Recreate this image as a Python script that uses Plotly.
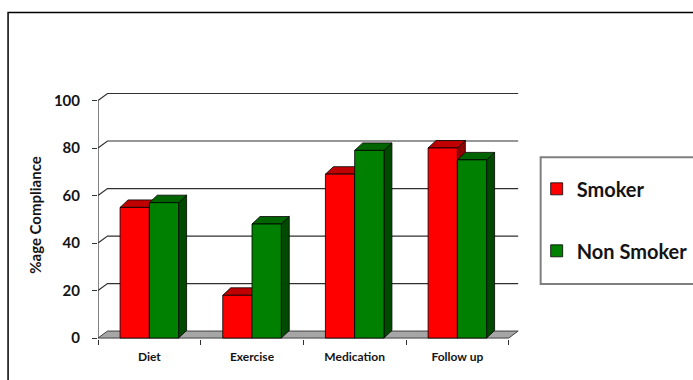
import plotly.graph_objects as go

# ---------------- data ----------------
categories = ["Diet", "Exercise", "Medication", "Follow up"]
smoker = [55, 18, 69, 80]
non_smoker = [57, 48, 79, 75]
y_ticks = [0, 20, 40, 60, 80, 100]
series_names = ["Smoker", "Non Smoker"]

# ---------------- style ----------------
FONT = "Lato"
TXT = "#141414"
RED = "#ff0000"; RED_TOP = "#c00000"; RED_SIDE = "#900000"
GRN = "#008000"; GRN_TOP = "#006400"; GRN_SIDE = "#004a00"

# plot geometry (pixels)
W_FIG, H_FIG = 693, 380
L, T, B = 98, 90.5, 41
XR = (-0.5, 3.62)
YR = (-0.4, 104)
PW = (XR[1] - XR[0]) * 102.75
PH = (YR[1] - YR[0]) * 2.38
R = W_FIG - L - PW

def px(xp):
    return (xp - L) / PW

def py(yp):
    return (H_FIG - B - yp) / PH

BW = 0.285                    # bar width (x units)
BDX, BDY = 8 / 102.75, 7.5 / 2.38   # bar depth offsets
WDX, WDY = 9.5 / 102.75, 7 / 2.38   # wall depth offsets

xs = list(range(len(categories)))
x_lo, x_hi = -0.5, len(categories) - 0.5

def poly(pts, fill, line="#000000", lw=0.8):
    d = "M " + " L ".join(f"{x},{y}" for x, y in pts) + " Z"
    return dict(type="path", path=d, xref="x", yref="y", fillcolor=fill,
                line=dict(color=line, width=lw), layer="below")

def pline(pts, color="#303030", lw=1.2):
    d = "M " + " L ".join(f"{x},{y}" for x, y in pts)
    return dict(type="path", path=d, xref="x", yref="y",
                line=dict(color=color, width=lw), layer="below")

shapes = []
# back-wall gridlines
for v in y_ticks[1:]:
    shapes.append(pline([(x_lo, v), (x_lo + WDX, v + WDY), (x_hi + WDX, v + WDY)]))
# floor
shapes.append(poly([(x_lo, 0), (x_hi, 0), (x_hi + WDX, WDY), (x_lo + WDX, WDY)],
                   "#a6a6a6", line="#404040", lw=1))
# front value axis line
shapes.append(pline([(x_lo, 0), (x_lo, y_ticks[-1])], color="#303030", lw=1.2))

# 3D top/side faces of the bars
for i, (s, n) in enumerate(zip(smoker, non_smoker)):
    for vals, off, top, side in ((s, -BW, RED_TOP, RED_SIDE), (n, 0, GRN_TOP, GRN_SIDE)):
        x0 = i + off
        x1 = x0 + BW
        shapes.append(poly([(x1, 0), (x1 + BDX, BDY), (x1 + BDX, vals + BDY), (x1, vals)], side))
        shapes.append(poly([(x0, vals), (x1, vals), (x1 + BDX, vals + BDY), (x0 + BDX, vals + BDY)], top))

fig = go.Figure()
fig.add_trace(go.Bar(x=xs, y=smoker, name=series_names[0], width=BW, offset=-BW,
                     marker=dict(color=RED, line=dict(color="#000000", width=0.8)),
                     legendgroup="a"))
fig.add_trace(go.Bar(x=xs, y=non_smoker, name=series_names[1], width=BW, offset=0,
                     marker=dict(color=GRN, line=dict(color="#000000", width=0.8)),
                     legendgroup="b"))

# legend frame and outer chart frame
shapes.append(dict(type="rect", xref="paper", yref="paper",
                   x0=px(541), x1=px(760), y0=py(284), y1=py(157),
                   line=dict(color="#7f7f7f", width=2), fillcolor="rgba(0,0,0,0)", layer="above"))
shapes.append(dict(type="rect", xref="paper", yref="paper",
                   x0=px(8), x1=px(760), y0=py(420), y1=py(12),
                   line=dict(color="#000000", width=1.5), fillcolor="rgba(0,0,0,0)", layer="above"))

fig.update_layout(
    width=W_FIG, height=H_FIG,
    margin=dict(l=L, r=R, t=T, b=B, autoexpand=False),
    paper_bgcolor="white", plot_bgcolor="rgba(0,0,0,0)",
    font=dict(family=FONT, color=TXT),
    barmode="overlay",
    shapes=shapes,
    showlegend=True,
    legend=dict(x=px(537), y=py(169), xanchor="left", yanchor="top",
                bgcolor="rgba(0,0,0,0)", borderwidth=0,
                traceorder="grouped", tracegroupgap=33,
                font=dict(family=FONT, size=20, color=TXT, weight="bold")),
    xaxis=dict(range=list(XR), tickvals=xs, ticktext=categories, ticks="",
               showgrid=False, zeroline=False, showline=False,
               tickfont=dict(family=FONT, size=12, color=TXT, weight="bold"),
               ticklabelstandoff=9,
               minor=dict(tickvals=[x_lo + k for k in range(len(categories) + 1)],
                          ticks="outside", ticklen=5, tickcolor="#303030", tickwidth=1,
                          showgrid=False)),
    yaxis=dict(range=list(YR), tickvals=y_ticks, ticks="outside", ticklen=5,
               tickcolor="#303030", tickwidth=1,
               showgrid=False, zeroline=False, showline=False,
               tickfont=dict(family=FONT, size=15, color=TXT, weight="bold"),
               ticklabelstandoff=9,
               title=dict(text="%age Compliance", standoff=8,
                          font=dict(family=FONT, size=15, color=TXT, weight="bold"))),
)

fig.write_html("out.html")
